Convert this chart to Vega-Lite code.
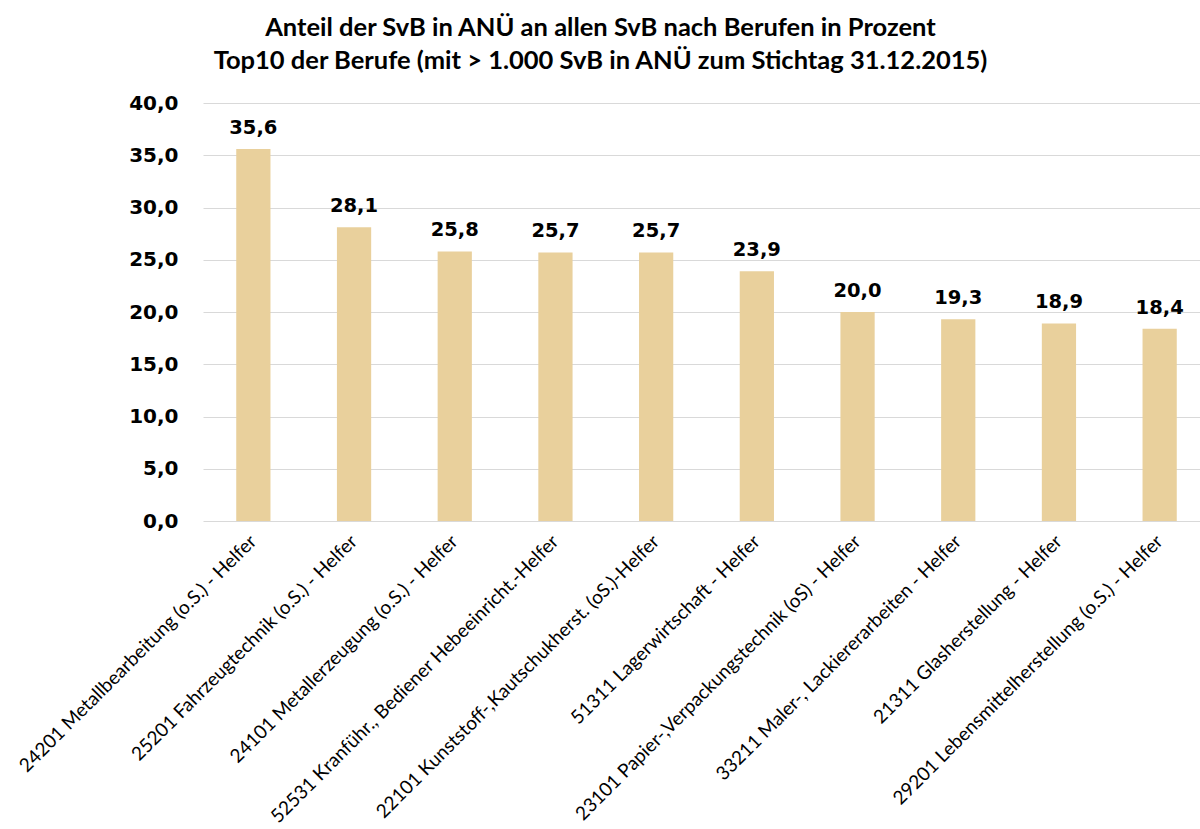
{
  "$schema": "https://vega.github.io/schema/vega-lite/v6.json",
  "width": 997,
  "height": 418,
  "autosize": "none",
  "padding": {"left": 203, "top": 103, "right": 0, "bottom": 308},
  "background": "white",
  "config": {
    "locale": {"number": {"decimal": ",", "thousands": ".", "grouping": [3], "currency": ["", " €"]}},
    "view": {"stroke": null},
    "font": "Lato"
  },
  "title": {
    "text": ["Anteil der SvB in ANÜ an allen SvB nach Berufen in Prozent", "Top10 der Berufe (mit > 1.000 SvB in ANÜ zum Stichtag 31.12.2015)"],
    "fontSize": 25.5,
    "fontWeight": "bold",
    "font": "Lato",
    "color": "#000000",
    "lineHeight": 33,
    "offset": 19,
    "anchor": "middle",
    "dx": -101
  },
  "data": {
    "values": [
      {"beruf": "24201 Metallbearbeitung (o.S.) - Helfer", "wert": 35.6},
      {"beruf": "25201 Fahrzeugtechnik (o.S.) - Helfer", "wert": 28.1},
      {"beruf": "24101 Metallerzeugung (o.S.) - Helfer", "wert": 25.8},
      {"beruf": "52531 Kranführ., Bediener Hebeeinricht.-Helfer", "wert": 25.7},
      {"beruf": "22101 Kunststoff-,Kautschukherst. (oS.)-Helfer", "wert": 25.7},
      {"beruf": "51311 Lagerwirtschaft - Helfer", "wert": 23.9},
      {"beruf": "23101 Papier-,Verpackungstechnik (oS) - Helfer", "wert": 20.0},
      {"beruf": "33211 Maler-, Lackiererarbeiten - Helfer", "wert": 19.3},
      {"beruf": "21311 Glasherstellung - Helfer", "wert": 18.9},
      {"beruf": "29201 Lebensmittelherstellung (o.S.) - Helfer", "wert": 18.4}
    ]
  },
  "encoding": {
    "x": {
      "field": "beruf",
      "type": "nominal",
      "sort": null,
      "scale": {"range": [0, 1007], "paddingInner": 0.66, "paddingOuter": 0.33},
      "axis": {
        "title": null,
        "labelAngle": -45,
        "labelAlign": "right",
        "labelBaseline": "middle",
        "labelFontSize": 19,
        "labelColor": "#000000",
        "labelPadding": 17,
        "labelLimit": 500,
        "ticks": false,
        "domain": false
      }
    },
    "y": {
      "field": "wert",
      "type": "quantitative",
      "scale": {"domain": [0, 40]},
      "axis": {
        "title": null,
        "values": [0, 5, 10, 15, 20, 25, 30, 35, 40],
        "format": ".1f",
        "labelFont": "DejaVu Sans",
        "labelFontSize": 20,
        "labelFontWeight": "bold",
        "labelColor": "#000000",
        "labelPadding": 25,
        "ticks": false,
        "domain": false,
        "gridColor": "#d9d9d9",
        "gridWidth": 1
      }
    }
  },
  "layer": [
    {"mark": {"type": "bar", "color": "#E9D09C"}},
    {
      "mark": {"type": "text", "baseline": "bottom", "dy": -11, "font": "DejaVu Sans", "fontSize": 19.5, "fontWeight": "bold", "color": "#000000"},
      "encoding": {"text": {"field": "wert", "type": "quantitative", "format": ".1f"}}
    }
  ]
}
